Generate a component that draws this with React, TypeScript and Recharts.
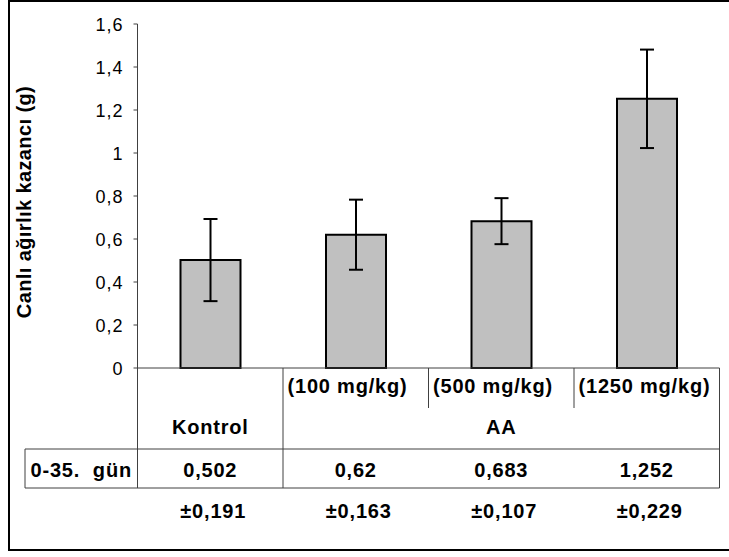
import React from 'react';
import { BarChart, Bar, XAxis, YAxis, ErrorBar } from 'recharts';

const categories = ['Kontrol', '(100 mg/kg)', '(500 mg/kg)', '(1250 mg/kg)'];
const means = [0.502, 0.62, 0.683, 1.252];
const sds = [0.191, 0.163, 0.107, 0.229];
const meanLabels = ['0,502', '0,62', '0,683', '1,252'];
const sdLabels = ['±0,191', '±0,163', '±0,107', '±0,229'];
const yTicks = [0, 0.2, 0.4, 0.6, 0.8, 1, 1.2, 1.4, 1.6];
const groupLabel = 'AA';
const rowLabel = '0-35.  gün';
const yTitle = 'Canlı ağırlık kazancı (g)';

const data = categories.map((c, i) => ({ name: c, value: means[i], err: sds[i] }));

const W = 729;
const H = 557;
const PLOT_LEFT = 137.5;
const PLOT_RIGHT = 719.5;
const PLOT_TOP = 24;
const PLOT_BOTTOM = 368;
const BAND = (PLOT_RIGHT - PLOT_LEFT) / categories.length;
const T0 = PLOT_BOTTOM;
const HDR_DIV = 408;
const ROW1 = 449;
const ROW2 = 488;
const TABLE_LEFT = 25;
const FONT = '"Liberation Sans", Arial, sans-serif';
const LINE = '#404040';

const txt = {
  fontFamily: FONT,
  fontSize: 20,
  fontWeight: 700,
  fill: '#000',
  letterSpacing: '0.8px',
  whiteSpace: 'pre' as const,
};

const fmt = (v: number) => String(v).replace('.', ',');

const YTick = (props: any) => {
  const { x, y, payload } = props;
  return (
    <text
      x={x}
      y={y}
      dy={6.5}
      textAnchor="end"
      style={{ fontFamily: FONT, fontSize: 18, fill: '#000', letterSpacing: '1px' }}
    >
      {fmt(payload.value)}
    </text>
  );
};

const TableTick = (props: any) => {
  const { x, payload, index } = props;
  const i = payload && payload.index != null ? payload.index : index;
  const cx = x;
  const left = cx - BAND / 2;
  const right = cx + BAND / 2;
  const last = i === categories.length - 1;
  const els: any[] = [];
  if (i === 0) {
    els.push(<line key="l0" x1={left} y1={T0} x2={left} y2={ROW2} stroke={LINE} strokeWidth={1} />);
    els.push(<line key="h1" x1={TABLE_LEFT} y1={ROW1} x2={PLOT_RIGHT} y2={ROW1} stroke={LINE} strokeWidth={1} />);
    els.push(<line key="h2" x1={TABLE_LEFT} y1={ROW2} x2={PLOT_RIGHT} y2={ROW2} stroke={LINE} strokeWidth={1} />);
    els.push(<line key="lt" x1={TABLE_LEFT} y1={ROW1} x2={TABLE_LEFT} y2={ROW2} stroke={LINE} strokeWidth={1} />);
    els.push(
      <text key="rl" x={(TABLE_LEFT + left) / 2} y={477} textAnchor="middle" style={txt}>
        {rowLabel}
      </text>
    );
    els.push(
      <text key="cat" x={cx} y={433.5} textAnchor="middle" style={txt}>
        {categories[i]}
      </text>
    );
  } else {
    els.push(
      <text key="cat" x={left + 4.5} y={393} textAnchor="start" style={txt}>
        {categories[i]}
      </text>
    );
  }
  if (i === 1) {
    els.push(
      <text key="grp" x={cx + BAND} y={434} textAnchor="middle" style={txt}>
        {groupLabel}
      </text>
    );
  }
  const full = i === 0 || last;
  els.push(
    <line key="r" x1={right} y1={T0} x2={right} y2={full ? ROW2 : HDR_DIV} stroke={LINE} strokeWidth={1} />
  );
  els.push(
    <text key="m" x={cx} y={477} textAnchor="middle" style={txt}>
      {meanLabels[i]}
    </text>
  );
  els.push(
    <text key="s" x={cx + 3} y={518} textAnchor="middle" style={txt}>
      {sdLabels[i]}
    </text>
  );
  return <g>{els}</g>;
};

const YLabel = () => (
  <text
    x={31}
    y={202}
    transform="rotate(-90 31 202)"
    textAnchor="middle"
    style={{ ...txt, fontSize: 20, letterSpacing: '0.4px' }}
  >
    {yTitle}
  </text>
);

export default function App() {
  return (
    <div
      style={{
        position: 'absolute',
        left: 0,
        top: 0,
        width: W,
        height: H,
        overflow: 'hidden',
        background: '#fff',
      }}
    >
      <div
        style={{
          position: 'absolute',
          left: 8,
          top: 0,
          width: 760,
          height: 551,
          boxSizing: 'border-box',
          border: '2px solid #000',
        }}
      />
      <div style={{ position: 'absolute', left: 0, top: 0 }}>
        <BarChart
          width={W}
          height={H}
          data={data}
          margin={{ top: PLOT_TOP, right: W - PLOT_RIGHT, left: 0, bottom: H - PLOT_BOTTOM - 160 }}
          barSize={60}
        >
          <XAxis
            dataKey="name"
            height={160}
            interval={0}
            tickLine={false}
            axisLine={{ stroke: LINE, strokeWidth: 1 }}
            tick={<TableTick />}
          />
          <YAxis
            width={PLOT_LEFT}
            domain={[0, 1.6]}
            ticks={yTicks}
            interval={0}
            tickSize={4}
            tickMargin={10}
            tickLine={{ stroke: LINE, strokeWidth: 1 }}
            axisLine={{ stroke: LINE, strokeWidth: 1 }}
            tick={<YTick />}
            label={<YLabel />}
          />
          <Bar dataKey="value" fill="#C0C0C0" stroke="#000" strokeWidth={2} isAnimationActive={false}>
            <ErrorBar dataKey="err" width={7} stroke="#000" strokeWidth={2} isAnimationActive={false} />
          </Bar>
        </BarChart>
      </div>
    </div>
  );
}
